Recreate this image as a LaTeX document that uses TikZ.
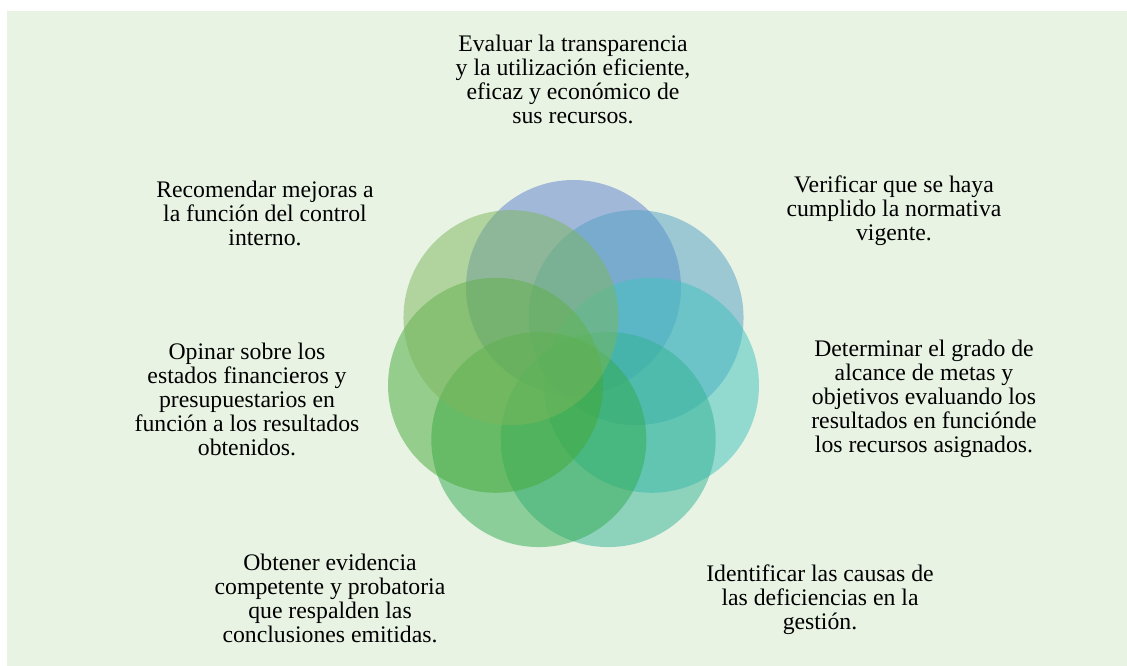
\documentclass[tikz,border=0pt]{standalone}
\usepackage{fontspec}
\setmainfont{Liberation Serif}
\definecolor{bgc}{RGB}{232,243,228}
\definecolor{p0}{RGB}{94,127,206}
\definecolor{p1}{RGB}{82,159,198}
\definecolor{p2}{RGB}{62,193,190}
\definecolor{p3}{RGB}{52,179,148}
\definecolor{p4}{RGB}{50,171,80}
\definecolor{p5}{RGB}{68,169,54}
\definecolor{p6}{RGB}{124,183,92}
\begin{document}
\begin{tikzpicture}[x=0.75pt,y=-0.75pt,
  petal/.style={circle,minimum size=161.25pt,inner sep=0pt,draw=none,fill opacity=0.5},
  lbl/.style={align=center,font=\fontsize{17.8}{18}\selectfont,text=black,inner sep=0pt}]
\useasboundingbox (0,0) rectangle (1127,666);
\fill[bgc] (7,11) rectangle (1127,666);
\foreach \i in {0,...,6} {
  \node[petal,fill=p\i] (c\i) at ({573.5+80*cos(90-\i*360/7)},{367.5-80*sin(90-\i*360/7)}) {};
}
\node[lbl] (t0) at (573,79) {Evaluar la transparencia\\y la utilización eficiente,\\eficaz y económico de\\sus recursos.};
\node[lbl] (t1) at (894,211) {Verificar que se haya\\cumplido la normativa\\vigente.};
\node[lbl] (t2) at (924,399) {Determinar el grado de\\alcance de metas y\\objetivos evaluando los\\resultados en funciónde\\los recursos asignados.};
\node[lbl] (t3) at (820,600) {Identificar las causas de\\las deficiencias en la\\gestión.};
\node[lbl] (t4) at (330,598) {Obtener evidencia\\competente y probatoria\\que respalden las\\conclusiones emitidas.};
\node[lbl] (t5) at (247,399) {Opinar sobre los\\estados financieros y\\presupuestarios en\\función a los resultados\\obtenidos.};
\node[lbl] (t6) at (265,213) {Recomendar mejoras a\\la función del control\\interno.};
\end{tikzpicture}
\end{document}
